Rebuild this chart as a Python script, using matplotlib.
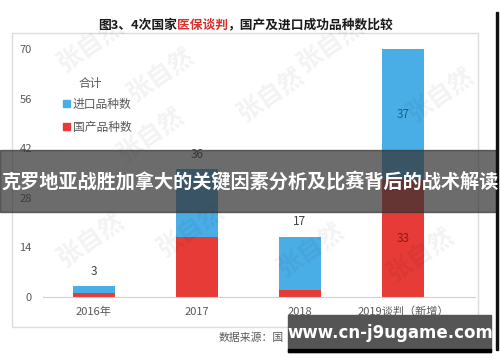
import numpy as np
import matplotlib.pyplot as plt
from matplotlib.patches import Rectangle

plt.rcParams['font.family'] = ['Noto Sans CJK SC', 'DejaVu Sans']

categories = ['2016年', '2017', '2018', '2019谈判（新增）']
domestic = [1, 17, 2, 33]
imported = [2, 19, 15, 37]
totals = [3, 36, 17, 70]

blue = '#4aaee6'
red = '#e63b37'
grey = '#595959'

fig = plt.figure(figsize=(5, 3.62), dpi=100)
W, H = 500.0, 362.0

# outer chart frame
fig.patches.append(Rectangle((12 / W, 1 - 327 / H), 466 / W, 294 / H, transform=fig.transFigure,
                             facecolor='none', edgecolor='#dcdcdc', lw=1))

ax = fig.add_axes([43 / W, 1 - 297 / H, 432 / W, 248 / H])
x = np.arange(len(categories))
ax.bar(x, domestic, width=0.41, color=red)
ax.bar(x, imported, bottom=domestic, width=0.41, color=blue)

ax.set_xlim(-0.495, 3.7)
ax.set_ylim(0, 70)
ax.set_yticks([0, 14, 28, 42, 56, 70])
ax.set_xticks(x)
ax.set_xticklabels(categories)
ax.tick_params(length=0, labelsize=8, labelcolor=grey)
ax.tick_params(axis='y', pad=8)
ax.tick_params(axis='x', pad=7)
for s in ['top', 'right', 'left']:
    ax.spines[s].set_visible(False)
ax.spines['bottom'].set_color('#d0d0d0')

# value labels
for i in range(3):
    ax.text(x[i], totals[i] + 2.5, str(totals[i]), ha='center', va='bottom', fontsize=8.5, color='#404040')
ax.text(x[3], domestic[3] + imported[3] / 2, str(imported[3]), ha='center', va='center', fontsize=8.5, color='#1f5f8b')
ax.text(x[3], domestic[3] / 2, str(domestic[3]), ha='center', va='center', fontsize=8.5, color='#8b1a18')

# legend
fig.text(78 / W, 1 - 84 / H, '合计', fontsize=8.5, color=grey, va='center')
fig.patches.append(Rectangle((63 / W, 1 - 107 / H), 7 / W, 7 / H, transform=fig.transFigure, color=blue))
fig.text(73 / W, 1 - 104 / H, '进口品种数', fontsize=8.5, color=grey, va='center')
fig.patches.append(Rectangle((63 / W, 1 - 130 / H), 7 / W, 7 / H, transform=fig.transFigure, color=red))
fig.text(73 / W, 1 - 127 / H, '国产品种数', fontsize=8.5, color=grey, va='center')

# faint watermarks
for (wx, wy) in [(90, 45), (330, 45), (160, 75), (270, 95), (440, 95), (150, 135),
                 (90, 240), (190, 230), (310, 250), (420, 255)]:
    fig.text(wx / W, 1 - wy / H, '张自然', fontsize=18, color='#000000', alpha=0.05, rotation=35,
             ha='center', va='center', fontweight='bold')

# title in three colours
renderer = fig.canvas.get_renderer()
parts = [('图3、4次国家', '#1a1a1a'), ('医保谈判', '#d9312c'), ('，国产及进口成功品种数比较', '#1a1a1a')]
xpos = 98 / W
for txt, col in parts:
    t = fig.text(xpos, 1 - 25 / H, txt, fontsize=9.2, fontweight='bold', color=col, va='center')
    bb = t.get_window_extent(renderer)
    xpos += bb.width / fig.bbox.width

# source line (rest is covered by the site box)
fig.text(219 / W, 1 - 338 / H, '数据来源：国', fontsize=7.8, color=grey, va='center')

# dark banner with headline
fig.patches.append(Rectangle((0, 1 - 212 / H), 497 / W, 62 / H, transform=fig.transFigure,
                             color='#333333', alpha=0.72, zorder=10))
fig.text(250 / W, 1 - 181 / H, '克罗地亚战胜加拿大的关键因素分析及比赛背后的战术解读', fontsize=13.8,
         fontweight='bold', color='white', ha='center', va='center', zorder=11)

# site box bottom right
fig.patches.append(Rectangle((288 / W, 1 - 352 / H), 203 / W, 37 / H, transform=fig.transFigure,
                             color='#555555', zorder=10))
fig.patches.append(Rectangle((288 / W, 1 - 352 / H), 203 / W, 3 / H, transform=fig.transFigure,
                             color='#000000', zorder=10))
fig.text(390 / W, 1 - 333 / H, 'www.cn-j9ugame.com', fontsize=12, fontweight='bold', color='white',
         ha='center', va='center', family='DejaVu Sans', zorder=11)

# black right edge
fig.patches.append(Rectangle((496 / W, 1 - 350 / H), 2 / W, 338 / H, transform=fig.transFigure,
                             color='#111111', zorder=10))

fig.savefig('out.png', dpi=100)
